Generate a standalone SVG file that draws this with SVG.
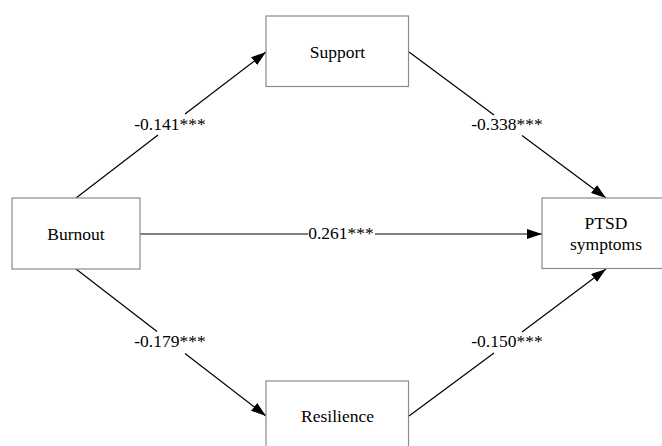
<svg xmlns="http://www.w3.org/2000/svg" width="662" height="446" viewBox="0 0 662 446">
  <style>
    .box { fill: #ffffff; stroke: #8a8a8a; stroke-width: 1.2; }
    .lbl { font-family: "Liberation Serif", "Times New Roman", serif; font-size: 17.5px; fill: #000; text-anchor: middle; }
    .edge { stroke: #000; stroke-width: 1.2; fill: none; }
    .hedge { stroke: #555; stroke-width: 1.6; fill: none; }
  </style>
  <defs>
    <marker id="arrow" markerUnits="userSpaceOnUse" markerWidth="15" markerHeight="10" refX="15" refY="5" orient="auto">
      <path d="M0,0 L15,5 L0,10 z" fill="#000"/>
    </marker>
  </defs>
  <rect x="0" y="0" width="662" height="446" fill="#ffffff"/>
  <g id="connectors">
    <line class="edge" x1="76" y1="198" x2="158" y2="135"/>
    <line class="edge" x1="185" y1="114" x2="266" y2="52" marker-end="url(#arrow)"/>
    <text class="lbl" x="170" y="130">-0.141***</text>

    <line class="edge" x1="409" y1="52" x2="494" y2="115"/>
    <line class="edge" x1="522" y1="135.5" x2="606" y2="198" marker-end="url(#arrow)"/>
    <text class="lbl" x="507" y="130">-0.338***</text>

    <line class="hedge" x1="140" y1="234" x2="308" y2="234"/>
    <line class="hedge" x1="375" y1="234" x2="542" y2="234" marker-end="url(#arrow)"/>
    <text class="lbl" x="341" y="239">0.261***</text>

    <line class="edge" x1="76" y1="269" x2="157" y2="331.5"/>
    <line class="edge" x1="185" y1="353.5" x2="266" y2="416" marker-end="url(#arrow)"/>
    <text class="lbl" x="170" y="347">-0.179***</text>

    <line class="edge" x1="409" y1="416" x2="494" y2="353"/>
    <line class="edge" x1="522" y1="332" x2="606" y2="269" marker-end="url(#arrow)"/>
    <text class="lbl" x="507" y="347">-0.150***</text>
  </g>
  <g id="node-support">
    <rect class="box" x="266" y="16" width="142.5" height="70.5"/>
    <text class="lbl" x="337.5" y="57.5">Support</text>
  </g>
  <g id="node-burnout">
    <rect class="box" x="12" y="198" width="128" height="71"/>
    <text class="lbl" x="76" y="239.5">Burnout</text>
  </g>
  <g id="node-ptsd">
    <rect class="box" x="542" y="198" width="130" height="70.5"/>
    <text class="lbl" x="606" y="228.5">PTSD</text>
    <text class="lbl" x="606" y="250">symptoms</text>
  </g>
  <g id="node-resilience">
    <rect class="box" x="266" y="381" width="142.5" height="80"/>
    <text class="lbl" x="337.5" y="421.5">Resilience</text>
  </g>
</svg>
